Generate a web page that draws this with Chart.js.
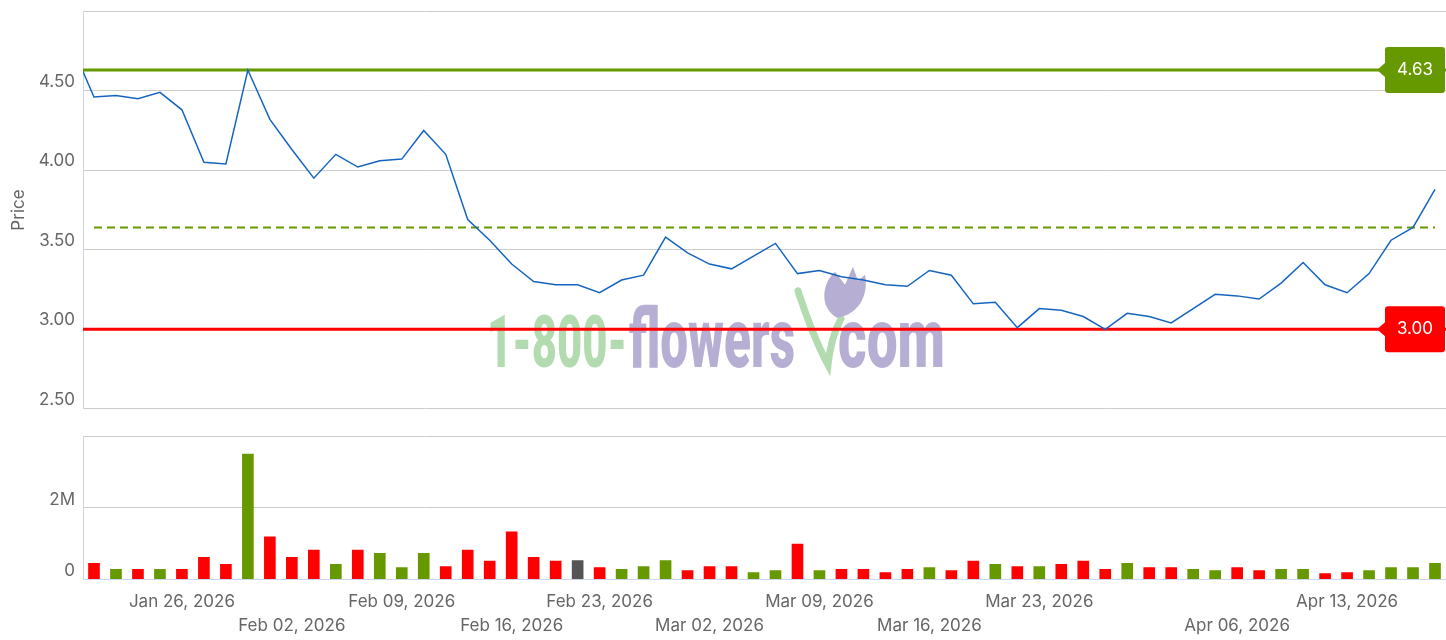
<!DOCTYPE html>
<html>
<head>
<meta charset="utf-8">
<script src="https://cdn.jsdelivr.net/npm/chart.js@4.4.1/dist/chart.umd.min.js"></script>
<style>
  html, body { margin: 0; padding: 0; background: #fff; overflow: hidden; }
  #wrap { position: relative; width: 1446px; height: 640px; overflow: hidden; }
  #priceBox { position: absolute; left: 0; top: -7px; width: 1446px; height: 434px; }
  #volBox { position: absolute; left: 0; top: 418px; width: 1446px; height: 233px; }
</style>
</head>
<body>
<div id="wrap">
  <div id="priceBox"><canvas id="priceChart"></canvas></div>
  <div id="volBox"><canvas id="volChart"></canvas></div>
</div>
<script>
// trading days shown
var dates = ['Jan 20','Jan 21','Jan 22','Jan 23','Jan 26','Jan 27','Jan 28','Jan 29','Jan 30',
  'Feb 02','Feb 03','Feb 04','Feb 05','Feb 06','Feb 09','Feb 10','Feb 11','Feb 12','Feb 13',
  'Feb 17','Feb 18','Feb 19','Feb 20','Feb 23','Feb 24','Feb 25','Feb 26','Feb 27',
  'Mar 02','Mar 03','Mar 04','Mar 05','Mar 06','Mar 09','Mar 10','Mar 11','Mar 12','Mar 13',
  'Mar 16','Mar 17','Mar 18','Mar 19','Mar 20','Mar 23','Mar 24','Mar 25','Mar 26','Mar 27',
  'Mar 30','Mar 31','Apr 01','Apr 02','Apr 06','Apr 07','Apr 08','Apr 09','Apr 10',
  'Apr 13','Apr 14','Apr 15','Apr 16','Apr 17'];

// closing price
var closes = [4.46, 4.47, 4.45, 4.49, 4.38, 4.05, 4.04, 4.63, 4.32, 4.13,
  3.95, 4.10, 4.02, 4.06, 4.07, 4.25, 4.10, 3.69, 3.56, 3.41,
  3.30, 3.28, 3.28, 3.23, 3.31, 3.34, 3.58, 3.48, 3.41, 3.38,
  3.46, 3.54, 3.35, 3.37, 3.33, 3.31, 3.28, 3.27, 3.37, 3.34,
  3.16, 3.17, 3.01, 3.13, 3.12, 3.08, 3.00, 3.10, 3.08, 3.04,
  3.13, 3.22, 3.21, 3.19, 3.29, 3.42, 3.28, 3.23, 3.35, 3.56,
  3.64, 3.88];
var prevClose = 4.78; // Jan 16, just left of the visible range

// volume, millions of shares
var volumes = [0.44, 0.27, 0.27, 0.27, 0.27, 0.61, 0.41, 3.50, 1.18, 0.61,
  0.81, 0.41, 0.81, 0.72, 0.32, 0.72, 0.35, 0.81, 0.50, 1.32,
  0.61, 0.50, 0.52, 0.32, 0.27, 0.35, 0.52, 0.24, 0.35, 0.35,
  0.18, 0.24, 0.98, 0.24, 0.27, 0.27, 0.18, 0.27, 0.32, 0.24,
  0.50, 0.41, 0.35, 0.35, 0.41, 0.50, 0.27, 0.44, 0.32, 0.32,
  0.27, 0.24, 0.32, 0.24, 0.27, 0.27, 0.15, 0.18, 0.24, 0.32,
  0.32, 0.44];

var highLevel = 4.63;
var lowLevel = 3.00;
var avgLevel = 3.64;

var priceTicks = [2.5, 3, 3.5, 4, 4.5, 5];
var volTicks = [0, 2e6, 4e6];
var tickLabels = ['Jan 26, 2026','Feb 02, 2026','Feb 09, 2026','Feb 16, 2026','Feb 23, 2026',
  'Mar 02, 2026','Mar 09, 2026','Mar 16, 2026','Mar 23, 2026','Apr 06, 2026','Apr 13, 2026'];
var tickAt = ['Jan 26','Feb 02','Feb 09','Feb 17','Feb 23','Mar 02','Mar 09','Mar 16','Mar 23','Apr 06','Apr 13'];

var GREEN = '#669900', RED = '#ff0000', BLUE = '#1565c0';
var GRID = '#cccccc', AXIS = '#ccd6eb';

Chart.defaults.font.family = 'Inter';
Chart.defaults.color = '#666666';

var n = closes.length;
var tickIdx = tickAt.map(function (d) { return dates.indexOf(d); });

// 1-800-flowers.com logo watermark behind the price line
var watermark = {
  id: 'watermark',
  beforeDatasetsDraw: function (chart) {
    var ctx = chart.ctx, ca = chart.chartArea;
    var x0 = ca.left, base = chart.scales.y.getPixelForValue(2.764);
    function fit(text, a, b, font, color) {
      ctx.save();
      ctx.font = font;
      var w = ctx.measureText(text).width;
      ctx.translate(x0 + a, base);
      ctx.scale((b - a) / w, 1);
      ctx.fillStyle = color;
      ctx.textBaseline = 'alphabetic';
      ctx.fillText(text, 0, 0);
      ctx.restore();
    }
    fit('1-800-', 404, 544, '900 73px Roboto', '#b3dbb0');
    fit('flowers', 546, 712, '900 83px Roboto', '#b6afd3');
    fit('com', 755, 862, '900 83px Roboto', '#b6afd3');
    // stem + tulip
    ctx.save();
    ctx.strokeStyle = '#b3dbb0';
    ctx.lineWidth = 7;
    ctx.lineCap = 'round';
    ctx.beginPath();
    ctx.moveTo(x0 + 715, base - 76);
    ctx.quadraticCurveTo(x0 + 730, base - 30, x0 + 745, base - 2);
    ctx.quadraticCurveTo(x0 + 748, base - 30, x0 + 758, base - 48);
    ctx.stroke();
    ctx.fillStyle = '#b6afd3';
    ctx.beginPath();
    ctx.moveTo(x0 + 754, base - 49);
    ctx.bezierCurveTo(x0 + 735, base - 60, x0 + 740, base - 85, x0 + 752, base - 95);
    ctx.lineTo(x0 + 762, base - 82);
    ctx.lineTo(x0 + 770, base - 100);
    ctx.lineTo(x0 + 775, base - 86);
    ctx.lineTo(x0 + 782, base - 92);
    ctx.bezierCurveTo(x0 + 786, base - 72, x0 + 776, base - 52, x0 + 754, base - 49);
    ctx.closePath();
    ctx.fill();
    ctx.restore();
  }
};

// value tags on the right for the high / low levels
var levelTags = {
  id: 'levelTags',
  afterDatasetsDraw: function (chart) {
    var ctx = chart.ctx, ca = chart.chartArea, y = chart.scales.y;
    [[highLevel, GREEN], [lowLevel, RED]].forEach(function (l) {
      var py = y.getPixelForValue(l[0]);
      var right = ca.right - 1, left = right - 60, h = 46, r = 3, top = py - h / 2;
      ctx.save();
      ctx.fillStyle = l[1];
      ctx.beginPath();
      ctx.moveTo(left - 8, py);
      ctx.lineTo(left, py - 7);
      ctx.lineTo(left, top + r);
      ctx.quadraticCurveTo(left, top, left + r, top);
      ctx.lineTo(right - r, top);
      ctx.quadraticCurveTo(right, top, right, top + r);
      ctx.lineTo(right, top + h - r);
      ctx.quadraticCurveTo(right, top + h, right - r, top + h);
      ctx.lineTo(left + r, top + h);
      ctx.quadraticCurveTo(left, top + h, left, top + h - r);
      ctx.lineTo(left, py + 7);
      ctx.closePath();
      ctx.fill();
      ctx.fillStyle = '#ffffff';
      ctx.font = '17px Inter';
      ctx.textAlign = 'center';
      ctx.textBaseline = 'middle';
      ctx.fillText(l[0].toFixed(2), (left + right) / 2, py);
      ctx.restore();
    });
  }
};

var pricePoints = [{ x: -1, y: prevClose }].concat(closes.map(function (v, i) { return { x: i, y: v }; }));

new Chart(document.getElementById('priceChart'), {
  type: 'line',
  data: {
    datasets: [
      { label: 'Price', data: pricePoints, borderColor: BLUE, borderWidth: 1.5, pointRadius: 0, tension: 0, order: 0 },
      { label: 'High', data: [{ x: -0.5, y: highLevel }, { x: n - 0.5, y: highLevel }], borderColor: GREEN, borderWidth: 3, pointRadius: 0, order: 2 },
      { label: 'Low', data: [{ x: -0.5, y: lowLevel }, { x: n - 0.5, y: lowLevel }], borderColor: RED, borderWidth: 3, pointRadius: 0, order: 2 },
      { label: 'Avg', data: [{ x: 0, y: avgLevel }, { x: n - 1, y: avgLevel }], borderColor: GREEN, borderWidth: 1.8, borderDash: [8, 5], pointRadius: 0, order: 1 }
    ]
  },
  options: {
    responsive: true,
    maintainAspectRatio: false,
    animation: false,
    layout: { padding: 0 },
    plugins: { legend: { display: false }, tooltip: { enabled: false } },
    scales: {
      x: { type: 'linear', min: -0.5, max: n - 0.5, display: false },
      y: {
        min: 2.5, max: 5,
        afterBuildTicks: function (s) { s.ticks = priceTicks.map(function (v) { return { value: v }; }); },
        afterFit: function (s) { s.width = 83; },
        ticks: {
          callback: function (v) { return v >= 5 ? '' : v.toFixed(2); },
          padding: 8, labelOffset: -9, font: { size: 17 }
        },
        grid: { color: GRID, drawTicks: false },
        border: { color: AXIS },
        title: { display: true, text: 'Price', font: { size: 17 }, padding: { top: 9, bottom: 0 } }
      }
    }
  },
  plugins: [watermark, levelTags]
});

new Chart(document.getElementById('volChart'), {
  type: 'bar',
  data: {
    datasets: [{
      label: 'Volume',
      data: volumes.map(function (v, i) { return { x: i, y: v * 1e6 }; }),
      backgroundColor: function (c) {
        var i = c.dataIndex;
        var d = closes[i] - (i === 0 ? prevClose : closes[i - 1]);
        return d === 0 ? '#555555' : (d > 0 ? GREEN : RED);
      },
      barThickness: 11,
      borderWidth: 0
    }]
  },
  options: {
    responsive: true,
    maintainAspectRatio: false,
    animation: false,
    layout: { padding: { top: 0, bottom: 2, left: 0, right: 0 } },
    plugins: { legend: { display: false }, tooltip: { enabled: false } },
    scales: {
      x: {
        type: 'linear', min: -0.5, max: n - 0.5, offset: false,
        afterBuildTicks: function (s) { s.ticks = tickIdx.map(function (v) { return { value: v }; }); },
        ticks: {
          autoSkip: false, maxRotation: 0, padding: 11,
          font: { size: 17, lineHeight: 1.41 },
          callback: function (v, i) { return i % 2 === 0 ? tickLabels[i] : ['', tickLabels[i]]; }
        },
        grid: { display: false, drawTicks: false },
        border: { color: AXIS }
      },
      y: {
        min: 0, max: 4e6,
        afterBuildTicks: function (s) { s.ticks = volTicks.map(function (v) { return { value: v }; }); },
        afterFit: function (s) { s.width = 83; },
        ticks: {
          callback: function (v) { return v === 0 ? '0' : (v >= 4e6 ? '' : (v / 1e6) + 'M'); },
          padding: 8, labelOffset: -8, font: { size: 17 }
        },
        grid: {
          color: function (c) { return c.tick && c.tick.value === 0 ? AXIS : GRID; },
          drawTicks: false
        },
        border: { color: AXIS }
      }
    }
  }
});
</script>
</body>
</html>
